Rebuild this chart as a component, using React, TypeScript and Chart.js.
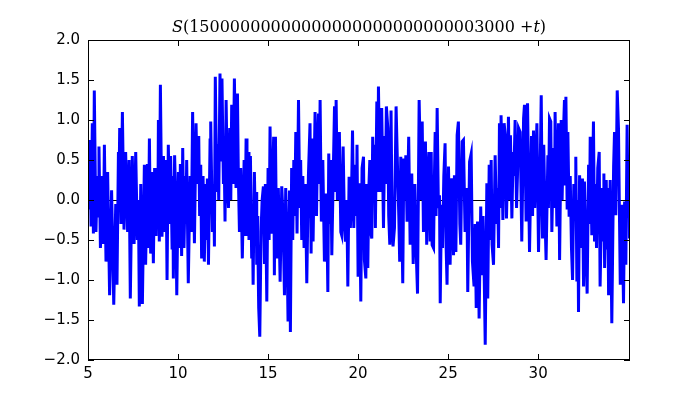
import React, { useEffect, useRef } from "react";
import { Chart, registerables } from "chart.js";

Chart.register(...registerables);

const titleParts: [string, string][] = [
  ["S", "italic"],
  ["(15000000000000000000000000003000", "normal"],
  [" +", "normal"],
  ["t", "italic"],
  [")", "normal"],
];

const xTickValues = [5, 10, 15, 20, 25, 30];
const yMin = -2;
const yMax = 2;
const yStep = 0.5;
const xMin = 5;
const xMax = 35.1;

const tValues = [
  5.0, 5.06, 5.11, 5.17, 5.24, 5.3, 5.35, 5.44, 5.52, 5.58, 5.61, 5.69, 5.8, 5.85, 5.91, 6.0, 6.09, 6.2, 6.31, 6.43,
  6.54, 6.61, 6.69, 6.72, 6.76, 6.83, 6.91, 7.0, 7.09, 7.2, 7.28, 7.35, 7.46, 7.56, 7.65, 7.74, 7.8, 7.85, 7.93, 8.02,
  8.13, 8.2, 8.3, 8.35, 8.41, 8.48, 8.56, 8.63, 8.7, 8.78, 8.85, 8.88, 8.91, 8.96, 9.02, 9.11, 9.19, 9.26, 9.33, 9.39,
  9.46, 9.54, 9.59, 9.67, 9.71, 9.74, 9.81, 9.87, 9.93, 10.02, 10.07, 10.13, 10.2, 10.26, 10.33, 10.41, 10.44, 10.48, 10.57, 10.67,
  10.74, 10.81, 10.91, 11.0, 11.07, 11.15, 11.2, 11.26, 11.31, 11.39, 11.46, 11.54, 11.58, 11.63, 11.69, 11.78, 11.8, 11.83, 11.91, 11.98,
  12.02, 12.07, 12.15, 12.2, 12.26, 12.33, 12.41, 12.44, 12.52, 12.56, 12.61, 12.67, 12.74, 12.8, 12.87, 12.93, 12.98, 13.06, 13.13, 13.22,
  13.3, 13.35, 13.41, 13.48, 13.57, 13.67, 13.72, 13.78, 13.83, 13.89, 13.94, 14.02, 14.09, 14.13, 14.17, 14.24, 14.3, 14.34, 14.37, 14.4,
  14.43, 14.48, 14.54, 14.61, 14.67, 14.74, 14.8, 14.85, 14.93, 15.0, 15.06, 15.11, 15.19, 15.26, 15.31, 15.35, 15.41, 15.48, 15.57, 15.67,
  15.76, 15.83, 15.91, 15.98, 16.06, 16.11, 16.19, 16.24, 16.31, 16.37, 16.43, 16.48, 16.54, 16.61, 16.69, 16.76, 16.81, 16.87, 16.93, 17.0,
  17.07, 17.15, 17.24, 17.33, 17.39, 17.44, 17.5, 17.56, 17.61, 17.69, 17.74, 17.8, 17.85, 17.89, 17.96, 18.04, 18.13, 18.2, 18.28, 18.32,
  18.37, 18.43, 18.48, 18.54, 18.61, 18.69, 18.74, 18.78, 18.85, 18.91, 18.96, 19.04, 19.09, 19.17, 19.24, 19.3, 19.37, 19.43, 19.5, 19.57,
  19.63, 19.69, 19.76, 19.83, 19.91, 19.94, 20.0, 20.07, 20.15, 20.22, 20.3, 20.35, 20.43, 20.48, 20.54, 20.59, 20.65, 20.7, 20.76, 20.81,
  20.87, 20.91, 20.96, 21.04, 21.09, 21.13, 21.19, 21.24, 21.31, 21.41, 21.48, 21.52, 21.57, 21.65, 21.7, 21.76, 21.83, 21.89, 21.94, 22.02,
  22.11, 22.19, 22.26, 22.31, 22.37, 22.43, 22.48, 22.54, 22.59, 22.65, 22.72, 22.81, 22.89, 22.98, 23.06, 23.15, 23.22, 23.3, 23.39, 23.5,
  23.56, 23.63, 23.69, 23.74, 23.81, 23.87, 23.93, 24.0, 24.06, 24.11, 24.19, 24.24, 24.28, 24.33, 24.39, 24.46, 24.52, 24.56, 24.63, 24.69,
  24.76, 24.83, 24.89, 24.94, 25.02, 25.11, 25.2, 25.3, 25.35, 25.43, 25.5, 25.57, 25.65, 25.7, 25.78, 25.85, 25.94, 26.04, 26.09, 26.19,
  26.28, 26.35, 26.44, 26.5, 26.56, 26.63, 26.69, 26.72, 26.81, 26.87, 26.94, 27.0, 27.06, 27.15, 27.2, 27.28, 27.33, 27.39, 27.44, 27.52,
  27.61, 27.69, 27.74, 27.8, 27.85, 27.91, 27.94, 28.04, 28.11, 28.17, 28.24, 28.3, 28.35, 28.41, 28.46, 28.54, 28.61, 28.65, 28.72, 28.8,
  28.85, 28.91, 29.0, 29.09, 29.19, 29.24, 29.33, 29.41, 29.52, 29.63, 29.69, 29.74, 29.81, 29.87, 29.93, 30.02, 30.11, 30.17, 30.24, 30.31,
  30.39, 30.44, 30.54, 30.57, 30.63, 30.7, 30.76, 30.85, 30.91, 30.94, 31.04, 31.13, 31.19, 31.28, 31.33, 31.39, 31.46, 31.5, 31.54, 31.61,
  31.65, 31.72, 31.78, 31.85, 31.91, 31.98, 32.06, 32.09, 32.15, 32.2, 32.24, 32.3, 32.39, 32.46, 32.52, 32.57, 32.65, 32.72, 32.8, 32.85,
  32.89, 32.98, 33.07, 33.13, 33.19, 33.24, 33.31, 33.39, 33.44, 33.54, 33.61, 33.65, 33.69, 33.78, 33.83, 33.87, 33.91, 34.0, 34.09, 34.19,
  34.24, 34.31, 34.39, 34.46, 34.52, 34.56, 34.65, 34.74, 34.8, 34.87, 34.94, 35.0, 35.04, 35.07, 35.11,
];

const sValues = [
  0.2, -0.1, 0.75, -0.33, 0.96, -0.42, 1.37, -0.4, 0.3, -0.2, 0.67, -0.6, 0.3, -0.55, 0.69, -0.77, 0.35, -1.19, 0.12, -1.31,
  -0.05, -1.06, 0.6, 0.1, 0.9, -0.3, 1.1, -0.37, 0.6, -0.4, 0.5, -1.23, 0.55, -0.55, 0.6, -0.5, 0.0, -1.33, 0.2, -1.3,
  0.44, -0.81, 0.45, -0.6, 0.77, -0.67, 0.35, -0.79, 0.4, -0.45, 0.4, -0.2, 1.0, -0.52, 1.44, -0.46, 0.55, -0.4, 0.5, -1.0,
  0.69, -0.3, 0.55, -0.6, 0.3, -0.98, 0.56, 0.0, -1.19, 0.35, -0.6, 0.45, -0.7, 0.65, -0.6, 0.3, -0.3, 0.5, -1.04, 0.3,
  -0.4, 1.1, -0.54, 0.96, 0.2, 0.8, -0.2, 0.44, -0.73, 0.3, -0.77, 0.2, -0.5, 0.27, -0.81, 0.77, 0.2, 0.98, -0.4, 0.2,
  -0.58, 1.54, 0.1, 0.7, 0.0, 1.58, 0.5, 1.52, 0.2, 0.6, -0.27, 1.25, 0.2, -0.1, 0.9, 0.0, 1.19, 0.2, 1.52, 0.15,
  1.33, 0.3, -0.4, 0.4, -0.73, 0.5, -0.45, 0.77, -0.45, 0.6, -0.5, 0.55, -0.73, -0.2, -1.06, 0.35, -0.4, 0.1, -0.81, -0.2,
  -0.5, -1.35, -1.71, -0.4, 0.0, 0.17, -0.8, 0.2, -1.27, 0.4, -0.5, 0.92, -0.42, 0.3, 0.79, -0.94, 0.79, -0.73, 0.15, -1.02,
  0.17, -0.2, -1.19, 0.15, -0.7, -1.52, 0.12, -1.65, 0.4, -0.5, 0.5, -0.2, 0.85, -0.42, 1.25, -0.1, 0.5, -0.5, 0.3, -0.6,
  0.2, -1.04, 0.3, 0.96, -0.67, 0.77, -0.52, 0.4, 1.1, -0.2, 0.6, 1.08, 0.2, 1.25, -0.27, 0.5, -0.77, 0.08, -0.5, -1.15,
  0.58, -0.3, 0.5, -0.69, 0.2, 1.17, 0.1, 1.25, 0.0, 0.6, 0.85, -0.4, -0.44, 0.67, -0.3, -0.52, 0.0, -1.08, 0.29, -0.35,
  0.0, 0.87, -0.35, 0.44, -0.2, 0.69, -0.96, 0.21, -1.27, 0.4, 0.54, -0.75, -0.98, 0.2, -0.85, 0.1, 0.5, -0.4, -0.48, 0.79,
  0.1, 0.69, -0.35, 1.23, 0.1, 1.42, 0.5, 0.1, 1.15, -0.35, 0.8, 0.2, 1.17, 0.9, -0.2, -0.56, 1.12, -0.3, -0.58, -0.35,
  1.17, 0.4, -0.2, -0.77, 0.54, -0.3, -1.04, 0.52, 0.0, 0.56, -0.27, 0.79, -0.56, 0.33, -0.8, 0.2, -0.6, -1.17, 1.25, 0.0,
  0.98, -0.4, 0.2, 0.73, -0.56, 0.3, 0.6, -0.52, 0.6, -0.56, -0.6, 0.3, 0.85, -0.2, 1.15, -0.1, 0.06, -1.29, -0.06, -0.6,
  0.3, 0.71, -0.6, -1.06, 0.42, -0.81, 0.27, -0.69, 0.31, -0.65, 0.81, 0.98, -0.3, -0.56, 0.73, 0.75, -0.4, 0.15, -1.15, 0.48,
  0.58, -0.77, -1.08, -0.3, -1.35, -0.27, -0.9, -1.48, -0.08, -0.94, -0.2, -0.9, -1.81, 0.21, -1.23, 0.44, -0.5, 0.5, -0.56, -0.81,
  0.56, -0.3, 0.15, -0.6, 0.96, -0.1, 1.06, -0.25, 0.96, 0.81, -0.23, 0.4, 1.04, 0.0, 0.81, -0.23, 0.6, 0.3, 1.0, -0.1,
  0.3, 0.9, 0.85, -0.52, 1.02, 1.19, -0.27, 1.21, -0.65, 0.8, -0.2, 0.87, -0.1, 0.5, 0.96, -0.65, 0.35, 1.31, -0.48, 0.69,
  -0.3, -0.75, 0.56, -0.1, 1.02, 0.98, -0.4, 0.65, -0.1, 1.1, -0.33, 0.96, -0.75, 1.0, 0.0, 0.73, 1.25, 0.2, 1.29, -0.1,
  0.85, -0.21, 0.3, -0.6, -1.0, 0.2, -0.23, 0.54, -1.02, 0.0, -1.4, 0.31, -0.6, 0.27, -1.08, 0.23, -0.6, -1.17, 0.44, -0.3,
  0.79, -0.44, 0.98, -0.52, 0.2, -0.6, 0.4, 0.6, -1.08, 0.15, -0.5, 0.33, -0.85, 0.25, -0.6, 0.15, -1.19, 0.25, -1.54, 0.42,
  0.85, -0.19, 1.37, 0.9, -0.3, -1.06, -0.06, -1.29, -0.02, -0.81, 0.94, -0.2, 0.56, -0.48, 0.3,
];

const TICK_FONT = { family: "'DejaVu Sans', sans-serif", size: 15 };

export default function App() {
  const canvasRef = useRef<HTMLCanvasElement | null>(null);

  useEffect(() => {
    const canvas = canvasRef.current;
    if (!canvas) return;

    const framePlugin = {
      id: "mplFrame",
      beforeDatasetsDraw(chart: any) {
        const { ctx, chartArea, scales } = chart;
        const y0 = Math.round(scales.y.getPixelForValue(0)) + 0.5;
        ctx.save();
        ctx.strokeStyle = "#000";
        ctx.lineWidth = 1;
        ctx.beginPath();
        ctx.moveTo(chartArea.left, y0);
        ctx.lineTo(chartArea.right, y0);
        ctx.stroke();
        ctx.restore();
      },
      afterDatasetsDraw(chart: any) {
        const { ctx, chartArea, scales } = chart;
        const { left, right, top, bottom } = chartArea;
        ctx.save();
        ctx.strokeStyle = "#000";
        ctx.lineWidth = 1;
        ctx.strokeRect(left + 0.5, top + 0.5, right - left - 1, bottom - top - 1);
        const tl = 6;
        ctx.beginPath();
        scales.x.ticks.forEach((tk: any) => {
          const px = Math.round(scales.x.getPixelForValue(tk.value)) + 0.5;
          ctx.moveTo(px, bottom);
          ctx.lineTo(px, bottom - tl);
          ctx.moveTo(px, top);
          ctx.lineTo(px, top + tl);
        });
        scales.y.ticks.forEach((tk: any) => {
          const py = Math.round(scales.y.getPixelForValue(tk.value)) + 0.5;
          ctx.moveTo(left, py);
          ctx.lineTo(left + tl, py);
          ctx.moveTo(right, py);
          ctx.lineTo(right - tl, py);
        });
        ctx.stroke();

        // title with mixed italic/normal serif text
        const size = 16;
        const fam = "'DejaVu Serif', serif";
        let total = 0;
        const widths = titleParts.map(([txt, style]) => {
          ctx.font = `${style} ${size}px ${fam}`;
          const w = ctx.measureText(txt).width;
          total += w;
          return w;
        });
        let x = (left + right) / 2 - total / 2;
        ctx.fillStyle = "#000";
        ctx.textBaseline = "alphabetic";
        ctx.textAlign = "left";
        titleParts.forEach(([txt, style], i) => {
          ctx.font = `${style} ${size}px ${fam}`;
          ctx.fillText(txt, x, 32);
          x += widths[i];
        });
        ctx.restore();
      },
    };

    const chart = new Chart(canvas, {
      type: "line",
      data: {
        datasets: [
          {
            data: tValues.map((t, i) => ({ x: t, y: sValues[i] })),
            borderColor: "#0000ff",
            borderWidth: 3,
            pointRadius: 0,
            tension: 0,
            fill: false,
          },
        ],
      },
      options: {
        responsive: false,
        animation: false,
        devicePixelRatio: 1,
        layout: { padding: { left: 0, top: 40, right: 70, bottom: 0 } },
        plugins: {
          legend: { display: false },
          title: { display: false },
          tooltip: { enabled: false },
        },
        scales: {
          x: {
            type: "linear",
            min: xMin,
            max: xMax,
            afterBuildTicks: (scale: any) => {
              scale.ticks = xTickValues.map((v) => ({ value: v }));
            },
            afterFit: (scale: any) => {
              scale.height = 40;
            },
            grid: { display: false, drawTicks: false },
            border: { display: false },
            ticks: {
              color: "#000",
              font: TICK_FONT,
              padding: 5,
              maxRotation: 0,
              autoSkip: false,
              callback: (v: any) => String(v),
            },
          },
          y: {
            type: "linear",
            min: yMin,
            max: yMax,
            afterFit: (scale: any) => {
              scale.width = 88;
            },
            grid: { display: false, drawTicks: false },
            border: { display: false },
            ticks: {
              color: "#000",
              font: TICK_FONT,
              padding: 8,
              stepSize: yStep,
              autoSkip: false,
              callback: (v: any) => {
                const n = Number(v);
                const s = Math.abs(n).toFixed(1);
                return n < 0 ? "\u2212" + s : s;
              },
            },
          },
        },
      },
      plugins: [framePlugin],
    });

    return () => chart.destroy();
  }, []);

  return (
    <div style={{ position: "absolute", left: 0, top: 0, width: 700, height: 400, background: "#fff" }}>
      <canvas ref={canvasRef} width={700} height={400} />
    </div>
  );
}
